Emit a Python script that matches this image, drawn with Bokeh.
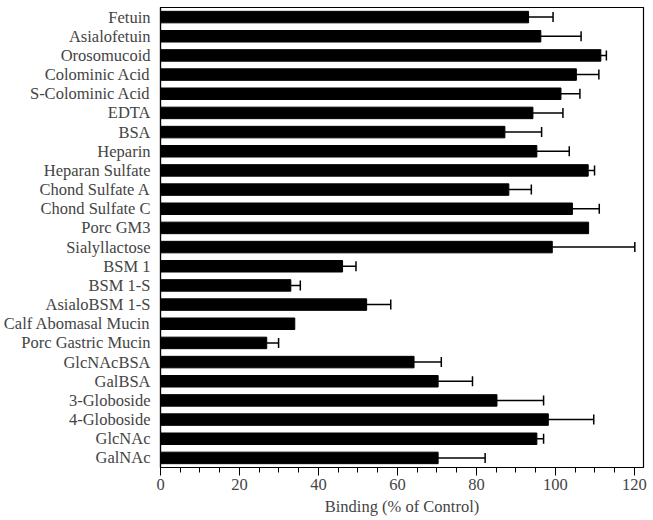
from bokeh.plotting import figure
from bokeh.models import ColumnDataSource, Range1d, FactorRange, Whisker, TeeHead, SingleIntervalTicker
from bokeh.embed import file_html
from bokeh.resources import INLINE

categories = ["Fetuin", "Asialofetuin", "Orosomucoid", "Colominic Acid", "S-Colominic Acid",
              "EDTA", "BSA", "Heparin", "Heparan Sulfate", "Chond Sulfate A", "Chond Sulfate C",
              "Porc GM3", "Sialyllactose", "BSM 1", "BSM 1-S", "AsialoBSM 1-S",
              "Calf Abomasal Mucin", "Porc Gastric Mucin", "GlcNAcBSA", "GalBSA",
              "3-Globoside", "4-Globoside", "GlcNAc", "GalNAc"]
binding = [93.2, 96.3, 111.5, 105.3, 101.4, 94.3, 87.2, 95.3, 108.3, 88.2, 104.3,
           108.4, 99.2, 46.1, 33.0, 52.2, 34.0, 26.9, 64.2, 70.3, 85.2, 98.2, 95.3, 70.3]
error = [6.2, 10.2, 1.4, 5.7, 4.8, 7.6, 9.3, 8.2, 1.6, 5.7, 6.8,
         0.0, 20.9, 3.4, 2.4, 6.1, 0.0, 3.0, 6.9, 8.7, 11.8, 11.5, 1.7, 11.9]
x_ticks_interval = 20

n = len(categories)
err_idx = [i for i in range(n) if error[i] > 0]
src = ColumnDataSource(dict(cat=categories, val=binding))
esrc = ColumnDataSource(dict(cat=[categories[i] for i in err_idx],
                             lo=[binding[i] for i in err_idx],
                             hi=[binding[i] + error[i] for i in err_idx]))

FONT = "Liberation Serif"
FS = "16.5px"

p = figure(frame_width=483, frame_height=460, output_backend="svg", toolbar_location=None,
           y_range=FactorRange(factors=list(reversed(categories))),
           x_range=Range1d(0, 122.3),
           min_border_left=140, min_border_right=8, min_border_top=7, min_border_bottom=20)

p.hbar(y="cat", right="val", left=0, height=0.6, source=src, color="black")
w = Whisker(source=esrc, base="cat", lower="lo", upper="hi", dimension="width",
            line_color="black", line_width=1.5,
            lower_head=None, upper_head=TeeHead(size=10, line_color="black", line_width=1.5))
p.add_layout(w)

p.xgrid.visible = False
p.ygrid.visible = False
p.outline_line_color = "black"
p.outline_line_width = 1.2

p.xaxis.ticker = SingleIntervalTicker(interval=x_ticks_interval, num_minor_ticks=4)
p.xaxis.axis_label = "Binding (% of Control)"
p.xaxis.axis_label_text_font = FONT
p.xaxis.axis_label_text_font_style = "normal"
p.xaxis.axis_label_text_font_size = FS
p.xaxis.axis_label_standoff = 4
p.xaxis.major_label_text_font = FONT
p.xaxis.major_label_text_font_size = FS
p.xaxis.major_label_standoff = 3
p.xaxis.major_tick_out = 8
p.xaxis.major_tick_in = 0
p.xaxis.minor_tick_out = 5
p.xaxis.minor_tick_in = 0
p.xaxis.axis_line_color = "black"
p.xaxis.major_tick_line_color = "black"
p.xaxis.minor_tick_line_color = "black"
p.xaxis.axis_line_width = 1.2

p.yaxis.major_tick_line_color = None
p.yaxis.minor_tick_line_color = None
p.yaxis.major_label_text_font = FONT
p.yaxis.major_label_text_font_size = FS
p.yaxis.major_label_standoff = 4
p.yaxis.axis_line_color = "black"
p.yaxis.axis_line_width = 1.2

open("out.html", "w").write(file_html(p, INLINE))
